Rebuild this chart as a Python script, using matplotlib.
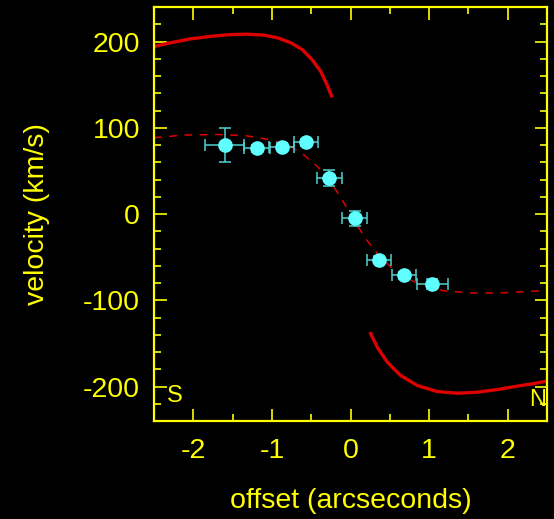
import numpy as np
import matplotlib
matplotlib.use("Agg")
import matplotlib.pyplot as plt
from matplotlib.ticker import MultipleLocator

# measured points
offset = [-1.60, -1.19, -0.875, -0.565, -0.268, 0.051, 0.36, 0.68, 1.04]
velocity = [80, 76, 78, 83, 42, -5, -53, -71, -81]
offset_err = [0.25, 0.16, 0.16, 0.155, 0.155, 0.153, 0.15, 0.155, 0.20]
velocity_err = [20, 4, 4, 4, 9, 9, 4, 4, 6]

# model curve (dashed)
model_x = [-2.5, -2.12, -1.70, -1.32, -1.02, -0.76, -0.595, -0.42, -0.255, -0.106,
           0.042, 0.19, 0.34, 0.51, 0.68, 0.93, 1.19, 1.53, 1.91, 2.5]
model_v = [88.5, 91.5, 92.2, 90.7, 86, 78.3, 68.6, 55, 37.6, 16.3,
           -7, -28.3, -45.7, -61.3, -72.9, -83.7, -89.1, -91.5, -91.5, -88.5]

# thick branches
upper_x = [-2.5, -2.29, -2.04, -1.78, -1.53, -1.32, -1.10, -0.93, -0.76,
           -0.615, -0.49, -0.38, -0.30, -0.233]
upper_v = [194.2, 198.5, 203, 206, 208, 208.5, 207.4, 204.3, 198.5,
           190.7, 179, 165.5, 150, 135.2]
lower_x = [0.246, 0.34, 0.467, 0.637, 0.85, 1.10, 1.36, 1.61, 1.87, 2.12, 2.34, 2.5]
lower_v = [-136.8, -154.3, -171.7, -187.2, -198.8, -205.8, -207.8, -206.6,
           -203.5, -199.6, -196.5, -193.6]

yellow = "#ffff00"
plt.rcParams['font.family'] = ['Liberation Sans', 'DejaVu Sans']
plt.rcParams['axes.unicode_minus'] = False

fig = plt.figure(figsize=(5.54, 5.19), dpi=100, facecolor="black")
ax = fig.add_axes([0.278, 0.1888, 0.7094, 0.7977], facecolor="black")

ax.plot(upper_x, upper_v, color="#dd0000", lw=2.4, solid_capstyle="butt")
ax.plot(lower_x, lower_v, color="#dd0000", lw=2.4, solid_capstyle="butt")
ax.plot(model_x, model_v, color="#dd0000", lw=1.1, dashes=(5, 5))
ax.errorbar(offset, velocity, xerr=offset_err, yerr=velocity_err, fmt="o",
            color="#60ffff", ecolor="#50d0d0", elinewidth=1.1, capsize=4,
            capthick=1.1, markersize=9.5, zorder=5)

ax.set_xlim(-2.5, 2.5)
ax.set_ylim(-240, 240)
ax.xaxis.set_major_locator(MultipleLocator(1))
ax.xaxis.set_minor_locator(MultipleLocator(0.5))
ax.yaxis.set_major_locator(MultipleLocator(100))
ax.yaxis.set_minor_locator(MultipleLocator(20))

ax.tick_params(which="both", direction="in", top=True, right=True,
               color=yellow, width=1.2, labelcolor=yellow, labelsize=20.5)
ax.tick_params(which="major", length=9)
ax.tick_params(which="minor", length=5)
ax.tick_params(axis="x", which="major", pad=12)
ax.tick_params(axis="y", which="major", pad=10)
for s in ax.spines.values():
    s.set_color(yellow)
    s.set_linewidth(1.6)

ax.set_xlabel("offset (arcseconds)", color=yellow, fontsize=20.5)
ax.set_ylabel("velocity (km/s)", color=yellow, fontsize=20.5)
ax.xaxis.set_label_coords(0.5, -0.162)
ax.yaxis.set_label_coords(-0.265, 0.5)

ax.text(0.053, 0.06, "S", transform=ax.transAxes, color=yellow, fontsize=17,
        ha="center", va="center")
ax.text(0.975, 0.05, "N", transform=ax.transAxes, color=yellow, fontsize=17,
        ha="center", va="center")

fig.savefig("out.png", dpi=100, facecolor="black")
